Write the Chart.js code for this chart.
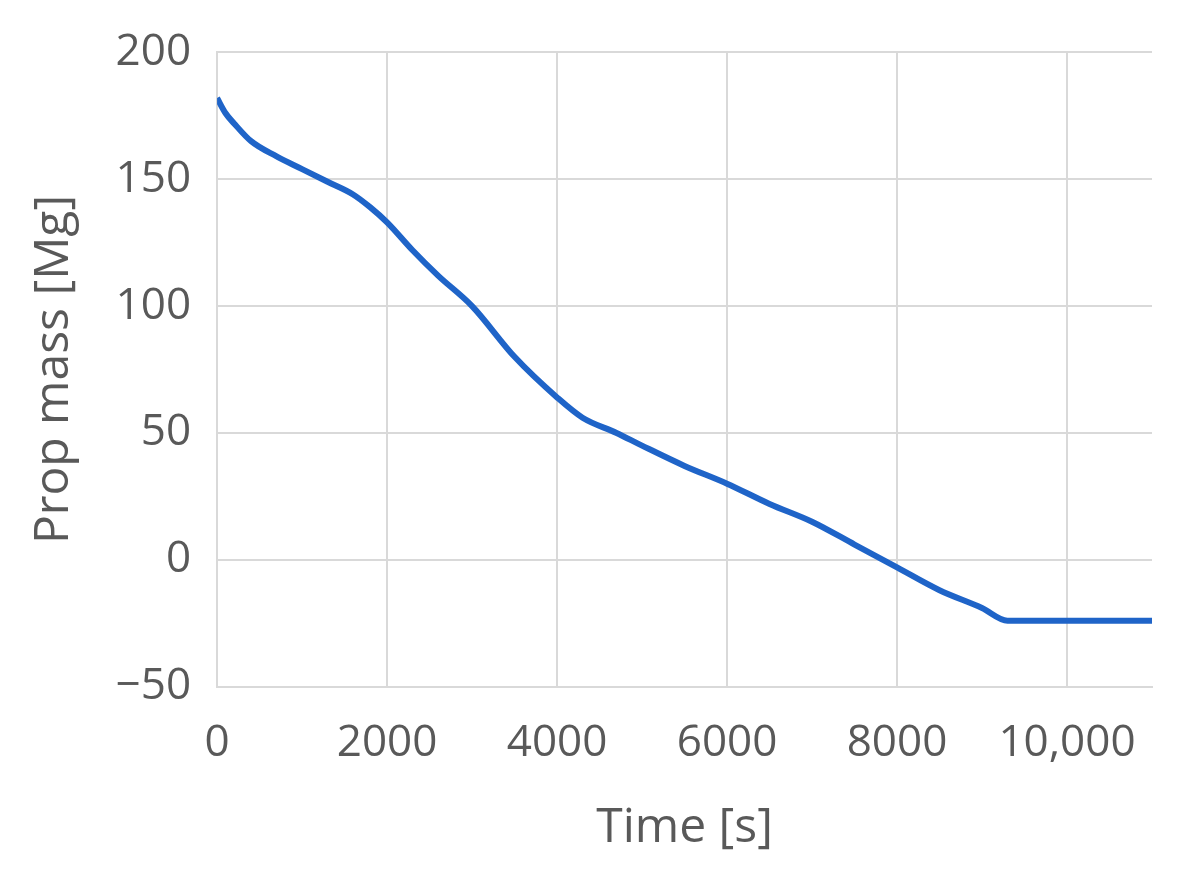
<!DOCTYPE html>
<html><head><meta charset="utf-8">
<script src="https://cdn.jsdelivr.net/npm/chart.js@4"></script>
<style>html,body{margin:0;background:#fff}#w{width:1197px;height:891px}</style>
</head><body><div id="w"><canvas id="c"></canvas></div>
<script>
const timeS = [0,100,200,400,700,1000,1300,1600,1800,2000,2300,2600,3000,3500,4000,4300,4700,5000,5500,6000,6500,7000,7500,8000,8500,9000,9300,10000,11000];
const propMg = [182,176,172,165,159,154,149,144,139,133,122,112,100,80,64,56,50,45,37,30,22,15,6,-3,-12,-19,-24,-24,-24];
const xTicks = [0,2000,4000,6000,8000,10000];
const yTicks = [-50,0,50,100,150,200];
const fmt = v => v===10000 ? '10,000' : (v<0 ? '\u2212'+Math.abs(v) : String(v));
new Chart(document.getElementById('c'), {
  type:'line',
  data:{datasets:[{data:timeS.map((t,i)=>({x:t,y:propMg[i]})),borderColor:'#1f64c8',borderWidth:6,pointRadius:0,cubicInterpolationMode:'monotone',fill:false}]},
  options:{responsive:true,maintainAspectRatio:false,animation:false,
    layout:{padding:{left:22,right:45,top:36,bottom:30}},
    plugins:{legend:{display:false},tooltip:{enabled:false}},
    scales:{
      x:{type:'linear',min:0,max:11000,
        afterBuildTicks:s=>{s.ticks=xTicks.map(v=>({value:v}));},
        ticks:{callback:fmt,color:'#595959',font:{family:'Open Sans',size:44},padding:30,maxRotation:0},
        grid:{color:'#d9d9d9',lineWidth:2,drawTicks:false},border:{color:'#d9d9d9',width:2},
        title:{display:true,text:'Time [s]',color:'#595959',font:{family:'Open Sans',size:48},padding:{top:0}}},
      y:{min:-50,max:200,
        afterBuildTicks:s=>{s.ticks=yTicks.map(v=>({value:v}));},
        ticks:{callback:fmt,color:'#595959',font:{family:'Open Sans',size:44},padding:26},
        grid:{color:'#d9d9d9',lineWidth:2,drawTicks:false},border:{color:'#d9d9d9',width:2},
        title:{display:true,text:'Prop mass [Mg]',color:'#595959',font:{family:'Open Sans',size:48},padding:{bottom:6}}}
    }}
});
</script></body></html>
